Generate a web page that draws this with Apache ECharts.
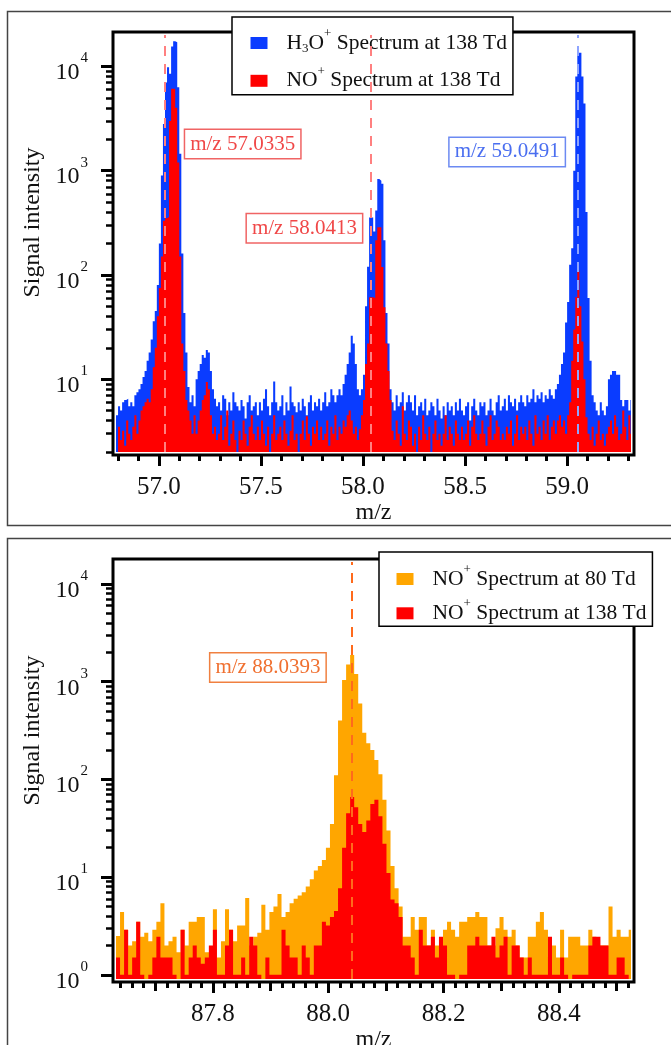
<!DOCTYPE html>
<html>
<head>
<meta charset="utf-8">
<title>PTR-TOF spectra</title>
<script src="https://cdn.jsdelivr.net/npm/echarts@6/dist/echarts.min.js"></script>
<style>
  html, body { margin: 0; padding: 0; background: #fff; }
  #chart { width: 671px; height: 1045px; }
</style>
</head>
<body>
<div id="chart"></div>
<script>
// ---------- m/z 57–59 window: 0.01-wide bins starting at 56.79 ----------
const topBinStart = 56.79;
const topBinWidth = 0.01;

const h3oSignal138 = [
  4.5, 5.5, 5, 6, 6.3, 6.5, 5.5, 6, 5.5, 7,
  7.5, 8, 9, 10.5, 12, 15, 18, 24, 36, 45,
  80, 200, 900, 2800, 7000, 9800, 8500, 15500, 17400, 17000,
  6300, 1450, 160, 43, 18, 8.4, 6, 7, 5.5, 10,
  12, 14, 17, 16, 19, 18, 12, 8, 6.5, 5.5,
  6, 5, 7, 6.5, 4.5, 6, 5, 7.5, 6, 5.5,
  5, 6.3, 5.5, 4.2, 6, 7, 5, 5.5, 6, 4.5,
  6, 5, 6.5, 8, 5.5, 4.5, 6, 9.5, 6, 5,
  5.5, 7, 4.5, 6, 5, 8.5, 6, 5.5, 4.8, 6,
  5, 6.5, 5.5, 4.5, 6, 7, 5, 6, 5.5, 6.5,
  5, 6, 7.5, 5.5, 6, 8, 7, 6, 7, 8,
  7, 9, 11, 14, 18, 26, 22, 14, 8, 7,
  8, 11, 50, 120, 355, 355, 260, 415, 830, 800,
  750, 215, 43, 22, 8, 6, 5, 7, 5.5, 6,
  7.5, 5, 6, 7, 6, 5, 7, 4.5, 5.5, 6,
  5, 6.5, 4.5, 5, 6, 5.5, 4.5, 6.5, 5, 4.2,
  5.5, 4.5, 6, 5, 5.5, 4.5, 6, 5, 6.5, 5,
  4.5, 5.5, 6, 4, 5.5, 6.5, 5, 4.5, 6, 5.5,
  6, 4.5, 5, 6.5, 5, 4.5, 6, 7, 5, 5.5,
  6.5, 5, 7, 6, 5.5, 6.5, 5, 6, 7, 6,
  5.5, 7, 6, 6.5, 8, 6, 7, 6.5, 7.5, 6,
  7, 6.5, 8, 7, 6.5, 8, 9, 11, 14, 18,
  35, 55, 125, 180, 1000, 8000, 13500, 13500, 8000, 4400,
  400, 60, 15, 7, 6, 5, 4.5, 6, 5, 4.5,
  5.5, 10, 11, 12, 12, 11, 11, 6.3, 5.5, 6.3,
  6.3, 5, 6.3
];

const noSignal138Low = [
  1, 3.5, 2.6, 3.2, 2.3, 4, 3, 2.6, 3.5, 4.5,
  3, 4, 5, 5.5, 6, 6.5, 6, 8, 13, 20,
  40, 75, 150, 330, 350, 360, 3000, 6100, 6100, 4000,
  1200, 150, 22, 12, 6.3, 5, 4, 3, 4.5, 3,
  4, 5, 6.3, 7, 9.4, 8, 4.5, 3, 3.5, 2.6,
  3, 4.5, 2.6, 3.5, 5, 2.3, 3, 4, 2.6, 1,
  3.2, 2.6, 4, 3, 2.3, 3.5, 4.5, 3, 2.6, 3.5,
  2.6, 4, 3, 2.3, 3.5, 1, 3, 4.5, 2.6, 3,
  3.5, 2.6, 4, 3, 2.3, 3.2, 4.5, 2.6, 3, 1,
  3, 4, 2.6, 4.4, 3, 2.3, 3.5, 3, 4, 2.6,
  3.5, 2.6, 3, 4, 2.3, 3.5, 3, 4.5, 2.6, 3.5,
  3, 4, 3.5, 4.5, 5, 4, 3, 3.5, 2.6, 3.3,
  4.5, 6.3, 14, 22, 61, 61, 60, 215, 287, 287,
  119, 49, 22, 12, 6.3, 3.2, 2.6, 4, 3, 2.3,
  5.5, 3, 2.6, 4, 3.5, 2.3, 3, 1, 3.5, 2.6,
  4.5, 3, 2.6, 3.5, 1, 3, 4, 2.6, 3, 2.3,
  3, 4.5, 2.6, 3.5, 3, 2.3, 4, 3, 2.6, 3.5,
  2.6, 3, 4, 2.3, 3.5, 4.5, 3, 2.6, 3, 4,
  3, 2.3, 3.5, 4.5, 2.6, 3, 4, 3.5, 2.6, 3,
  2.6, 3.5, 3, 4, 2.3, 3, 4.5, 2.6, 3.5, 3,
  3.5, 2.6, 4, 3, 2.3, 4.5, 3, 3.5, 2.6, 4,
  3, 4.5, 2.6, 3.5, 4, 3, 4, 4.5, 3.5, 4,
  3, 4.5, 6, 15, 30, 61, 110, 50, 23, 10,
  4.3, 3, 2.6, 3.5, 2.3, 3, 4, 2.6, 3, 2.3,
  3, 3.5, 4, 3, 4.5, 3.5, 2.6, 3, 5, 3.5,
  2.6, 4.5, 3
];

const topPeakMz = [57.0335, 58.0413, 59.0491];
const topPeakLabels = ['m/z 57.0335', 'm/z 58.0413', 'm/z 59.0491'];
const topMajorTicks = [57.0, 57.5, 58.0, 58.5, 59.0];
const topMinorTicks = [56.8, 56.9, 57.1, 57.2, 57.3, 57.4, 57.6, 57.7, 57.8, 57.9,
                       58.1, 58.2, 58.3, 58.4, 58.6, 58.7, 58.8, 58.9, 59.1, 59.2, 59.3];

// ---------- m/z 88 window: 0.007-wide bins starting at 87.632 ----------
const botBinStart = 87.632;
const botBinWidth = 0.007;

const noSignal80 = [
  2.5, 4.4, 2.9, 2.0, 2.2, 3.5, 2.45, 2.7, 2.2, 2.9,
  3.5, 5.4, 2.0, 2.2, 2.45, 1.7, 2.9, 2.0, 3.5, 3.5,
  3.9, 3.9, 1.7, 1.7, 4.7, 1.5, 2.2, 4.7, 2.9, 2.2,
  3.2, 3.2, 6.1, 2.0, 2.45, 2.7, 5.2, 2.9, 4.4, 5.0,
  6.7, 3.9, 4.4, 5.4, 6, 6.5, 7, 8, 9.5, 11.7,
  13, 15, 20, 35, 110, 400, 1040, 1500, 1880, 1200,
  600, 300, 235, 200, 158, 113, 62, 30, 13, 7.7,
  5, 2.45, 2.45, 3.9, 2.9, 3.9, 3.9, 2.0, 2.9, 2.0,
  2.0, 2.9, 3.5, 2.9, 2.45, 3.5, 3.5, 3.9, 3.9, 4.4,
  3.9, 3.9, 2.0, 2.0, 3.0, 3.9, 2.9, 2.45, 2.9, 2.0,
  1.5, 1.5, 2.45, 2.45, 3.5, 4.4, 2.9, 1.5, 2.0, 1.5,
  2.9, 1.5, 2.45, 2.45, 2.45, 2.0, 2.0, 2.9, 2.45, 2.0,
  2.0, 2.0, 5.0, 2.45, 2.9, 2.45, 2.45, 2.9
];

const noSignal138High = [
  1.5, 1, 2.9, 1, 1.5, 3.5, 1, 0.5, 1, 1.5,
  2.45, 1.5, 1.5, 1.5, 1, 0.5, 2.9, 1, 1.5, 2,
  1.5, 1.3, 1.5, 2, 2.9, 1, 1, 2, 2.9, 1,
  1, 1.5, 1, 2.45, 2, 1, 0.5, 1.5, 1, 1,
  1, 2.9, 2, 1.5, 1.5, 1, 2, 1.5, 1, 2,
  2, 3.5, 3.2, 3.9, 4.5, 7.7, 20, 45, 66, 52,
  35, 29, 38, 56, 62, 42, 22, 11, 5.9, 5.4,
  3.9, 2, 2, 1.5, 1, 2.9, 2, 2, 2.45, 1.5,
  2.45, 2, 1, 1, 0.5, 1, 1, 2, 2, 2.45,
  2, 2, 2, 2.45, 1.5, 2, 2.45, 1, 2, 2,
  1.5, 1, 1.5, 1, 1, 1, 1, 2.45, 1, 1,
  1.5, 1, 0.5, 1, 1, 1, 1, 2, 2.45, 2.45,
  2, 2, 1, 1, 1.5, 1.5, 1, 0.5
];

const botPeakMz = [88.0393];
const botPeakLabels = ['m/z 88.0393'];
const botMajorTicks = [87.8, 88.0, 88.2, 88.4];
const botMidTicks = [87.7, 87.9, 88.1, 88.3, 88.5];
const botMinorTicks = [87.64, 87.66, 87.68, 87.72, 87.74, 87.76, 87.78, 87.82, 87.84, 87.86, 87.88,
                       87.92, 87.94, 87.96, 87.98, 88.02, 88.04, 88.06, 88.08, 88.12, 88.14, 88.16,
                       88.18, 88.22, 88.24, 88.26, 88.28, 88.32, 88.34, 88.36, 88.38, 88.42, 88.44,
                       88.46, 88.48, 88.52];

// log-axis decades and in-between ticks
const topDecades = [10, 100, 1000, 10000];
const topDecadeMinor = [2, 3, 4, 5, 6, 7, 8, 9, 20, 30, 40, 50, 60, 70, 80, 90,
                        200, 300, 400, 500, 600, 700, 800, 900, 2000, 3000, 4000, 5000, 6000, 7000, 8000, 9000];
const botDecades = [1, 10, 100, 1000, 10000];
const botDecadeMinor = topDecadeMinor;

// ---------- styling ----------
const FONT = 'Liberation Serif';
const INK = '#111';
const BLUE = '#0a3cff';
const RED = '#ff0000';
const ORANGE = '#ffa600';

// histogram bins -> step outline points (bin left edges plus a closing right edge)
function stepPoints(start, width, counts) {
  const pts = counts.map((v, i) => [+(start + i * width).toFixed(4), v]);
  pts.push([+(start + counts.length * width).toFixed(4), counts[counts.length - 1]]);
  return pts;
}

function spectrum(name, color, start, width, counts, axisIdx) {
  return {
    type: 'line', name: name, color: color,
    xAxisIndex: axisIdx, yAxisIndex: axisIdx,
    data: stepPoints(start, width, counts),
    step: 'end', showSymbol: false, symbol: 'none', silent: true, clip: true,
    lineStyle: { width: 0, color: color },
    itemStyle: { color: color },
    areaStyle: { color: color, opacity: 1, origin: 'start' }
  };
}

const supRich = {
  b: { fontSize: 24, fontFamily: FONT, color: INK, padding: [13, 0, 0, 0] },
  e: { fontSize: 15, fontFamily: FONT, color: INK, verticalAlign: 'top', padding: [3, 0, 0, 1] }
};
const decadeLabel = v => '{b|10}{e|' + Math.round(Math.log10(v)) + '}';

function xMain(gridIndex, min, max, ticks) {
  return {
    gridIndex, type: 'value', min, max, position: 'bottom', offset: 3,
    axisLine: { show: false }, splitLine: { show: false },
    axisTick: { show: true, customValues: ticks, length: 11, lineStyle: { color: '#000', width: 3 } },
    axisLabel: { customValues: ticks, formatter: v => v.toFixed(1), margin: 20,
                 fontSize: 25, fontFamily: FONT, color: INK },
    name: 'm/z', nameLocation: 'middle', nameGap: 45,
    nameTextStyle: { fontSize: 24, fontFamily: FONT, color: INK }
  };
}
function xTicksOnly(gridIndex, min, max, ticks, len) {
  return {
    gridIndex, type: 'value', min, max, position: 'bottom', offset: 3,
    axisLine: { show: false }, splitLine: { show: false }, axisLabel: { show: false },
    axisTick: { show: true, customValues: ticks, length: len, lineStyle: { color: '#000', width: 3 } }
  };
}
function yMain(gridIndex, min, max, ticks, namePad) {
  return {
    gridIndex, type: 'log', min, max, position: 'left', offset: 3,
    axisLine: { show: false }, splitLine: { show: false },
    axisTick: { show: true, customValues: ticks, length: 12, lineStyle: { color: '#000', width: 3 } },
    axisLabel: { customValues: ticks, formatter: decadeLabel, margin: 25, rich: supRich },
    name: 'Signal intensity', nameLocation: 'middle', nameGap: 62,
    nameTextStyle: { fontSize: 24, fontFamily: FONT, color: INK, padding: [0, 0, 0, namePad] }
  };
}
function yTicksOnly(gridIndex, min, max, ticks) {
  return {
    gridIndex, type: 'log', min, max, position: 'left', offset: 3,
    axisLine: { show: false }, splitLine: { show: false }, axisLabel: { show: false },
    axisTick: { show: true, customValues: ticks, length: 7, lineStyle: { color: '#000', width: 2.5 } }
  };
}

const legendNames = {
  'H3O+ 138 Td, m/z 57-59': '{t|H}{s|3}{t|O}{p|+}{t| Spectrum at 138 Td}',
  'NO+ 138 Td, m/z 57-59': '{t|NO}{p|+}{t| Spectrum at 138 Td}',
  'NO+ 80 Td, m/z 88': '{t|NO}{p|+}{t| Spectrum at 80 Td}',
  'NO+ 138 Td, m/z 88': '{t|NO}{p|+}{t| Spectrum at 138 Td}'
};
const legendText = {
  fontSize: 21.5, fontFamily: FONT, color: INK, padding: [0, 0, 0, 14],
  rich: {
    t: { fontSize: 21.5, fontFamily: FONT, color: INK, padding: [5, 0, 5, 0] },
    s: { fontSize: 13, fontFamily: FONT, color: INK, verticalAlign: 'bottom', padding: [0, 0, 4, 0] },
    p: { fontSize: 13, fontFamily: FONT, color: INK, verticalAlign: 'top' }
  }
};
function legendBox(left, top, names, padding, gap) {
  return {
    orient: 'vertical', left, top, padding, itemGap: gap,
    itemWidth: 17, itemHeight: 12, icon: 'rect', selectedMode: false,
    borderColor: '#000', borderWidth: 1.5, backgroundColor: '#fff',
    data: names, formatter: n => legendNames[n], textStyle: legendText
  };
}

function peakTag(mz, yVal, text, side, dist, color, border) {
  return {
    coord: [mz, yVal], symbol: 'circle', symbolSize: 1,
    itemStyle: { color: 'rgba(0,0,0,0)' },
    label: {
      show: true, position: side, distance: dist, formatter: text,
      fontSize: 21, fontFamily: FONT, color: color,
      backgroundColor: '#fff', borderColor: border, borderWidth: 1.5, padding: [4, 5, 3, 5]
    }
  };
}
function dashed(mz, color) {
  return { xAxis: mz, lineStyle: { color: color, type: [10, 8], width: 2 } };
}

const option = {
  animation: false,
  grid: [
    { left: 116, top: 35, width: 515, height: 417, outerBoundsMode: 'none', containLabel: false },
    { left: 116, top: 562, width: 515, height: 417, outerBoundsMode: 'none', containLabel: false }
  ],
  xAxis: [
    xMain(0, 56.79, 59.313, topMajorTicks),
    xTicksOnly(0, 56.79, 59.313, topMinorTicks, 6),
    xMain(1, 87.632, 88.525, botMajorTicks),
    xTicksOnly(1, 87.632, 88.525, botMidTicks, 9),
    xTicksOnly(1, 87.632, 88.525, botMinorTicks, 6)
  ],
  yAxis: [
    yMain(0, 2, 20000, topDecades, 42),
    yTicksOnly(0, 2, 20000, topDecadeMinor),
    yMain(1, 0.906, 16800, botDecades, 80),
    yTicksOnly(1, 0.906, 16800, botDecadeMinor)
  ],
  legend: [
    legendBox(232, 17, ['H3O+ 138 Td, m/z 57-59', 'NO+ 138 Td, m/z 57-59'], [10, 6, 3, 18.5], 9.8),
    legendBox(379, 552, ['NO+ 80 Td, m/z 88', 'NO+ 138 Td, m/z 88'], [11, 6, 2, 17.5], 7.3)
  ],
  series: [
    spectrum('H3O+ 138 Td, m/z 57-59', BLUE, topBinStart, topBinWidth, h3oSignal138, 0),
    spectrum('NO+ 138 Td, m/z 57-59', RED, topBinStart, topBinWidth, noSignal138Low, 0),
    {
      type: 'line', name: 'top peak marks', xAxisIndex: 0, yAxisIndex: 0, data: [], z: 3, silent: true,
      markLine: {
        silent: true, symbol: ['none', 'none'], label: { show: false },
        data: [dashed(topPeakMz[0], '#ff8080'), dashed(topPeakMz[1], '#ff8080'), dashed(topPeakMz[2], '#8ea4ff')]
      },
      markPoint: {
        silent: true,
        data: [
          peakTag(topPeakMz[0], 1800, topPeakLabels[0], 'right', 19, '#f04848', '#f06464'),
          peakTag(topPeakMz[1], 280, topPeakLabels[1], 'left', 9, '#f04848', '#f06464'),
          peakTag(topPeakMz[2], 1510, topPeakLabels[2], 'left', 12, '#4a6ef0', '#6c8af2')
        ]
      }
    },
    spectrum('NO+ 80 Td, m/z 88', ORANGE, botBinStart, botBinWidth, noSignal80, 2),
    spectrum('NO+ 138 Td, m/z 88', RED, botBinStart, botBinWidth, noSignal138High, 2),
    {
      type: 'line', name: 'bottom peak marks', xAxisIndex: 2, yAxisIndex: 2, data: [], z: 3, silent: true,
      markLine: {
        silent: true, symbol: ['none', 'none'], label: { show: false },
        data: [dashed(botPeakMz[0], '#ff6a1c')]
      },
      markPoint: {
        silent: true,
        data: [peakTag(botPeakMz[0], 1400, botPeakLabels[0], 'left', 25, '#f07030', '#f08040')]
      }
    }
  ],
  graphic: [
    // panel outlines
    { type: 'rect', silent: true, shape: { x: 7.5, y: 11.5, width: 700, height: 514 },
      style: { fill: null, stroke: '#444', lineWidth: 1.5 } },
    { type: 'rect', silent: true, shape: { x: 7.5, y: 538.5, width: 700, height: 600 },
      style: { fill: null, stroke: '#444', lineWidth: 1.5 } },
    // plot frames, set 3px off the data area
    { type: 'rect', silent: true, shape: { x: 113, y: 32, width: 521, height: 423 },
      style: { fill: null, stroke: '#000', lineWidth: 3 } },
    { type: 'rect', silent: true, shape: { x: 113, y: 559, width: 521, height: 423 },
      style: { fill: null, stroke: '#000', lineWidth: 3 } }
  ]
};

const chart = echarts.init(document.getElementById('chart'), null, { renderer: 'canvas' });
chart.setOption(option);
</script>
</body>
</html>
